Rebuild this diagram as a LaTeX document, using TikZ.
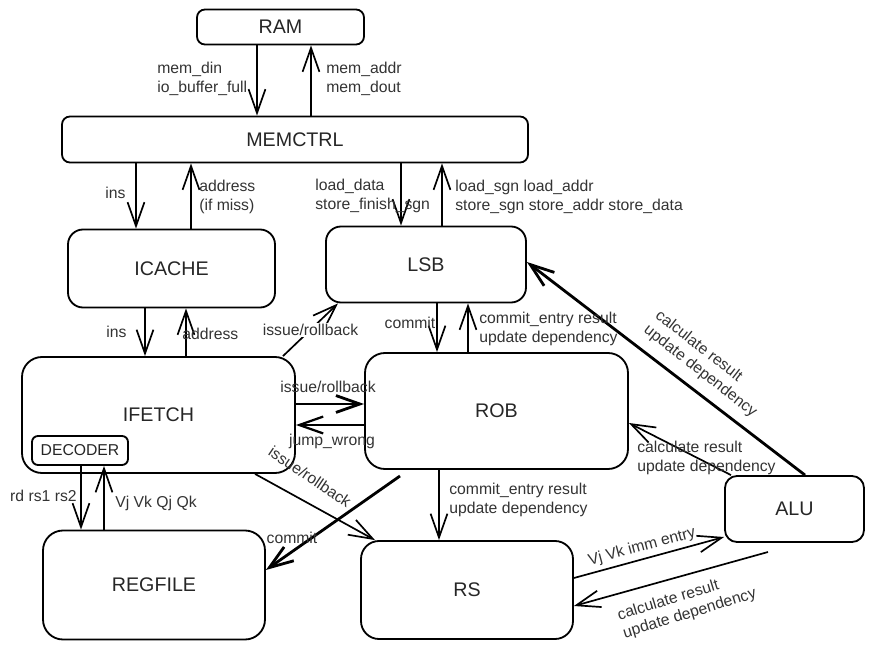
\documentclass[tikz,border=0pt]{standalone}
\usepackage{fontspec}
\setmainfont{Liberation Sans}
\usepackage{xcolor}
\usepackage{tikz}
\usetikzlibrary{positioning, arrows.meta}

\tikzset{
  box/.style={draw, line width=1.3pt, inner sep=0pt, text=black!85, font=\fontsize{14}{17}\selectfont},
  lbl/.style={inner sep=0pt, align=left, text=black!80, font=\fontsize{11.2}{13.3}\selectfont},
  arr/.style={-{Straight Barb[length=17pt,width=12pt]}, line width=1.2pt},
  thickarr/.style={arr, line width=2pt}
}

\begin{document}
\begin{tikzpicture}[x=0.25mm, y=-0.25mm]
        \useasboundingbox (0,0) rectangle (874,650);

        % blocks
        \foreach \n/\x/\y/\w/\h/\rad/\lab in {ram/280.5/27/167/35/8/RAM, mem/295/139.5/466/46/8/MEMCTRL,
            icache/171.5/268.5/207/78/15/ICACHE, lsb/426/264.5/200/76/15/LSB,
            ifetch/158.5/415/273/116/20/IFETCH, rob/496.5/411/263/116/20/ROB,
            regfile/154/585/222/109/20/REGFILE, rs/467/590/212/98/18/RS, alu/794.5/509/139/66/12/ALU} {
          \node[box, rounded corners=\rad*0.25mm, minimum width=\w*0.25mm, minimum height=\h*0.25mm] (\n) at (\x,\y) {\lab};
        }
        \node[box, rounded corners=1.5mm, minimum width=24mm, minimum height=7.25mm, font=\fontsize{11.2}{13}\selectfont] (decoder) at (80,450.5) {DECODER};

        % vertical links
        \foreach \a/\b/\x in {ram/mem/257, mem/icache/136, mem/lsb/401, icache/ifetch/145, lsb/rob/437, rob/rs/439, decoder/regfile/81} {
          \draw[arr] (\a.south -| \x,0) -- (\b.north -| \x,0);
        }
        \foreach \a/\b/\x in {mem/ram/311, icache/mem/191, lsb/mem/442, ifetch/icache/186, rob/lsb/468, regfile/decoder/104} {
          \draw[arr] (\a.north -| \x,0) -- (\b.south -| \x,0);
        }

        % other links
        \draw[arr] (ifetch.north -| 283,0) -- (lsb.south -| 338,0) node[lbl, midway, fill=white, inner sep=1pt] (lissuea) {issue/rollback};
        \draw[thickarr] (ifetch.east |- 0,404) -- (rob.west |- 0,404);
        \draw[arr, line width=1.6pt] (rob.west |- 0,425) -- (ifetch.east |- 0,425);
        \draw[arr] (ifetch.south -| 255,0) -- (rs.north -| 375,0);
        \coordinate (robtail) at (400,476);
        \draw[thickarr] (robtail) -- (regfile.east |- 0,570);
        \draw[arr] (alu.north -| 731,0) -- (rob.east |- 0,423);
        \draw[thickarr] (alu.north -| 805,0) -- (lsb.east |- 0,262);
        \draw[arr] (rs.east |- 0,578) -- (alu.west |- 0,537);
        \coordinate (alutail) at (768,552);
        \draw[arr] (alutail) -- (rs.east |- 0,606);

        % labels
        \node[lbl, anchor=west] (lmemin) at (157,79) {mem\_din\\io\_buffer\_full};
        \node[lbl, anchor=west] (lmemout) at (326,79) {mem\_addr\\mem\_dout};
        \node[lbl, anchor=west] (linsa) at (105,193) {ins};
        \node[lbl, anchor=west] (laddra) at (199,197) {address\\(if miss)};
        \node[lbl, anchor=west] (lload) at (315,196) {load\_data\\store\_finish\_sgn};
        \node[lbl, anchor=west] (lstore) at (455,197) {load\_sgn load\_addr\\store\_sgn store\_addr store\_data};
        \node[lbl, anchor=west] (linsb) at (106,332) {ins};
        \node[lbl, anchor=west] (laddrb) at (182,334) {address};
        \node[lbl] (lissueb) at (328,387) {issue/rollback};
        \node[lbl] (ljump) at (332,441) {jump\_wrong};
        \node[lbl, rotate=-34] (lissuec) at (310,477) {issue/rollback};
        \node[lbl] (lcommita) at (410,323) {commit};
        \node[lbl, anchor=west] (lentrya) at (479,329) {commit\_entry result\\update dependency};
        \node[lbl, anchor=west] (lentryb) at (449,500) {commit\_entry result\\update dependency};
        \node[lbl] (lcommitb) at (292,538) {commit};
        \node[lbl, anchor=east] (lrd) at (77,496) {rd rs1 rs2};
        \node[lbl, anchor=west] (lvj) at (115,503) {Vj Vk Qj Qk};
        \node[lbl, anchor=west] (lcalca) at (637,458) {calculate result\\update dependency};
        \node[lbl, rotate=-38] (lcalcb) at (706,364) {calculate result\\update dependency};
        \node[lbl, rotate=15] (lvjk) at (642,547) {Vj Vk imm entry};
        \node[lbl, rotate=17] (lcalcc) at (687,605) {calculate result\\update dependency};
      \end{tikzpicture}
\end{document}
